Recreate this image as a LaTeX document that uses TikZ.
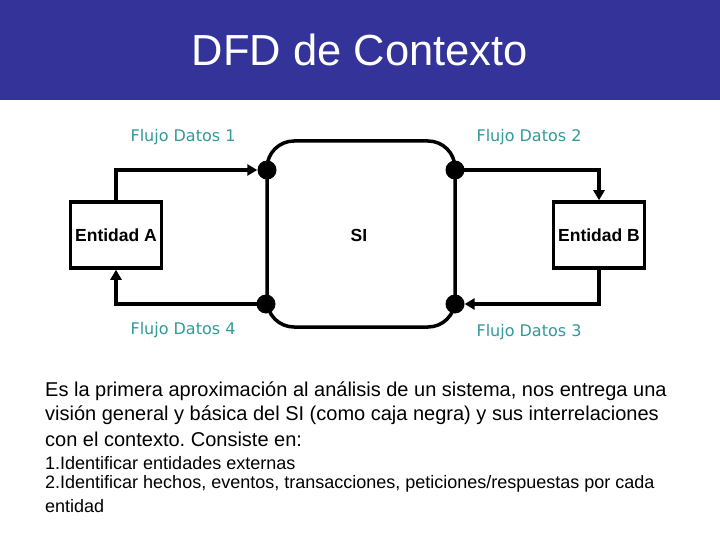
\documentclass[tikz,border=0pt]{standalone}
\usepackage{fontspec}
\setmainfont{Liberation Sans}
\newfontfamily\labfont{DejaVu Sans}
\usetikzlibrary{arrows.meta}
\frenchspacing
\definecolor{bandblue}{RGB}{51,51,153}
\definecolor{flowteal}{RGB}{51,153,153}
\tikzset{
  entity/.style={draw=black,line width=3.5pt,minimum width=91pt,minimum height=66pt,inner sep=1pt,font=\fontsize{17.5}{20}\selectfont\bfseries},
  flow/.style={line width=3.5pt,-{Triangle[length=10pt,width=11pt]}},
  flowlab/.style={text=flowteal,font=\labfont\fontsize{16}{19}\selectfont},
  dot/.style={circle,fill=black,minimum size=19pt,inner sep=0pt},
  para/.style={anchor=west,inner sep=0pt,font=\frenchspacing\fontsize{20}{24}\selectfont},
  small/.style={anchor=west,inner sep=0pt,font=\frenchspacing\fontsize{18}{21}\selectfont}
}
\begin{document}
\begin{tikzpicture}[x=1pt,y=-1pt]
\useasboundingbox (0,0) rectangle (720,540);
\fill[white] (0,0) rectangle (720,540);
\fill[bandblue] (0,0) rectangle (720,100);
\node[text=white,font=\fontsize{43.5}{50}\selectfont] (title) at (360,50) {DFD de Contexto};
% system
\draw[line width=3.5pt,rounded corners=27pt] (267,141) rectangle (455,327);
\node[font=\fontsize{17.5}{20}\selectfont\bfseries] (si) at (359,235) {SI};
\node[dot] (d1) at (267,170) {};
\node[dot] (d2) at (455,170) {};
\node[dot] (d3) at (455,304) {};
\node[dot] (d4) at (266,304) {};
% entities
\node[entity] (ea) at (116,235) {Entidad A};
\node[entity] (eb) at (599,235) {Entidad B};
% flows
\draw[flow] (ea.north) |- (d1.west);
\draw[flow] (d2.center) -| (eb.north);
\draw[flow] (eb.south) |- (d3.east);
\draw[flow] (d4.center) -| (ea.south);
% labels
\node[flowlab] (l1) at (183,137) {Flujo Datos 1};
\node[flowlab] (l2) at (529,137) {Flujo Datos 2};
\node[flowlab] (l4) at (183,330) {Flujo Datos 4};
\node[flowlab] (l3) at (529,332) {Flujo Datos 3};
% text
\node[para] (p1) at (45,391) {Es la primera aproximación al análisis de un sistema, nos entrega una};
\node[para] (p2) at (45,415) {visión general y básica del SI (como caja negra) y sus interrelaciones};
\node[para] (p3) at (45,439) {con el contexto. Consiste en:};
\node[small] (s1) at (45,463) {1.Identificar entidades externas};
\node[small] (s2) at (45,484) {2.Identificar hechos, eventos, transacciones, peticiones/respuestas por cada};
\node[small] (s3) at (45,506) {entidad};
\end{tikzpicture}
\end{document}
